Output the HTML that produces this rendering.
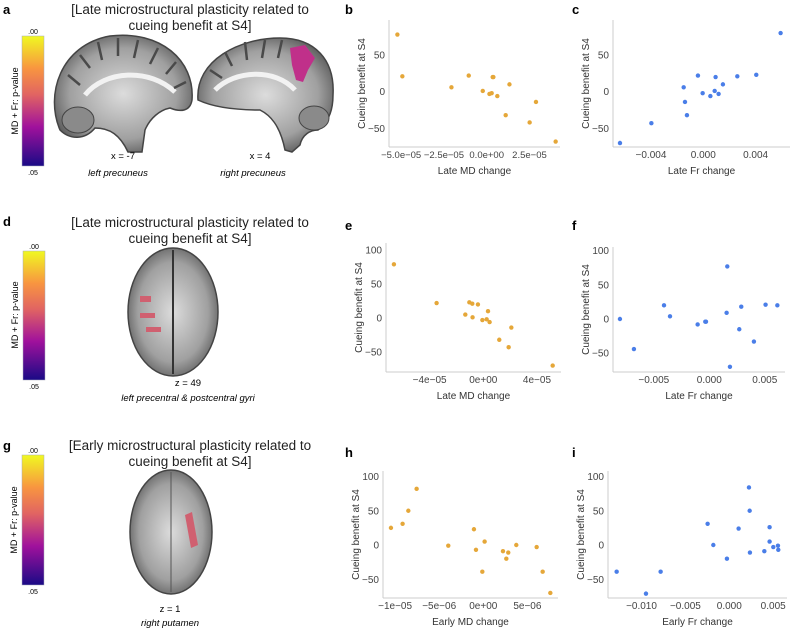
<!DOCTYPE html>
<html><head><meta charset="utf-8"><style>
body{margin:0;background:#fff;width:792px;height:633px;overflow:hidden;font-family:"Liberation Sans",sans-serif}
svg text{font-family:"Liberation Sans",sans-serif}
</style></head><body>
<svg id="fig" width="792" height="633" viewBox="0 0 792 633" xmlns="http://www.w3.org/2000/svg">
<defs>
<linearGradient id="plasma" x1="0" y1="0" x2="0" y2="1">
<stop offset="0" stop-color="#f0f921"/><stop offset="0.25" stop-color="#f89540"/><stop offset="0.45" stop-color="#e16462"/><stop offset="0.7" stop-color="#a0119c"/><stop offset="1" stop-color="#1a0a86"/>
</linearGradient>
<radialGradient id="brain" cx="0.5" cy="0.5" r="0.6">
<stop offset="0" stop-color="#dcdcdc"/><stop offset="0.65" stop-color="#a0a0a0"/><stop offset="1" stop-color="#4a4a4a"/>
</radialGradient>
</defs>
<g id="left">
<text x="3" y="14" font-weight="bold" font-size="13">a</text>
<text x="3" y="226" font-weight="bold" font-size="13">d</text>
<text x="3" y="450" font-weight="bold" font-size="13">g</text>
<g font-size="13.5" fill="#222" text-anchor="middle">
<text x="190" y="14">[Late microstructural plasticity related to</text>
<text x="190" y="30">cueing benefit at S4]</text>
<text x="190" y="227">[Late microstructural plasticity related to</text>
<text x="190" y="243">cueing benefit at S4]</text>
<text x="190" y="450">[Early microstructural plasticity related to</text>
<text x="190" y="466">cueing benefit at S4]</text>
</g>
<g>
<rect x="22" y="36" width="22" height="130" fill="url(#plasma)" stroke="#aab" stroke-width="0.5"/>
<text x="33" y="34" font-size="7" text-anchor="middle">.00</text><text x="33" y="175" font-size="7" text-anchor="middle">.05</text>
<text transform="translate(18,101) rotate(-90)" font-size="9" text-anchor="middle">MD + Fr: p-value</text></g>
<g>
<rect x="23" y="251" width="22" height="129" fill="url(#plasma)" stroke="#aab" stroke-width="0.5"/>
<text x="34" y="249" font-size="7" text-anchor="middle">.00</text><text x="34" y="389" font-size="7" text-anchor="middle">.05</text>
<text transform="translate(18,315) rotate(-90)" font-size="9" text-anchor="middle">MD + Fr: p-value</text></g>
<g>
<rect x="22" y="455" width="22" height="130" fill="url(#plasma)" stroke="#aab" stroke-width="0.5"/>
<text x="33" y="453" font-size="7" text-anchor="middle">.00</text><text x="33" y="594" font-size="7" text-anchor="middle">.05</text>
<text transform="translate(17,520) rotate(-90)" font-size="9" text-anchor="middle">MD + Fr: p-value</text></g>
<g>
<path d="M60,130 C45,95 60,45 110,36 C160,30 195,60 192,100 C190,112 180,112 170,108 C160,110 150,118 145,130 L142,152 L128,152 C120,135 110,128 95,128 C85,140 70,140 60,130Z" fill="url(#brain)" stroke="#444" stroke-width="1.5"/>
<path d="M85,95 C105,70 150,68 175,92" fill="none" stroke="#f2f2f2" stroke-width="5"/>
<path d="M68,75 L80,85 M80,55 L90,68 M98,42 L102,60 M118,38 L118,56 M138,40 L134,58 M158,48 L150,64 M176,62 L166,74 M186,82 L174,88" stroke="#4a4a4a" stroke-width="2.5"/>
<ellipse cx="78" cy="120" rx="16" ry="13" fill="#8a8a8a" stroke="#444"/>
</g>
<g>
<path d="M198,100 C195,60 240,38 280,38 C315,38 335,60 333,95 C333,115 325,125 318,130 C310,130 302,135 300,145 L292,152 L285,150 C280,125 270,115 260,110 C240,110 215,108 198,100Z" fill="url(#brain)" stroke="#444" stroke-width="1.5"/>
<path d="M215,90 C235,70 275,68 295,90" fill="none" stroke="#f2f2f2" stroke-width="5"/>
<path d="M210,70 L222,78 M225,52 L232,66 M245,42 L247,60 M265,40 L262,58 M282,40 L278,58" stroke="#4a4a4a" stroke-width="2.5"/>
<ellipse cx="314" cy="118" rx="15" ry="12" fill="#8a8a8a" stroke="#444"/>
<path d="M290,48 L305,45 L315,58 L308,70 L303,82 L296,80 L292,65 Z" fill="#c0308a"/>
</g>
<g font-size="9.5" text-anchor="middle">
<text x="123" y="159">x = -7</text>
<text x="118" y="176" font-style="italic">left precuneus</text>
<text x="260" y="159">x = 4</text>
<text x="253" y="176" font-style="italic">right precuneus</text>
<text x="188" y="386">z = 49</text>
<text x="188" y="401" font-style="italic">left precentral &amp; postcentral gyri</text>
<text x="170" y="612">z = 1</text>
<text x="170" y="626" font-style="italic">right putamen</text>
</g>
<g>
<ellipse cx="173" cy="312" rx="45" ry="64" fill="url(#brain)" stroke="#444" stroke-width="1.5"/>
<line x1="173" y1="250" x2="173" y2="374" stroke="#333" stroke-width="2"/>
<rect x="140" y="296" width="11" height="6" fill="#d06070"/><rect x="140" y="313" width="15" height="5" fill="#d06070"/><rect x="146" y="327" width="15" height="5" fill="#d06070"/>
</g>
<g>
<ellipse cx="171" cy="532" rx="41" ry="62" fill="url(#brain)" stroke="#444" stroke-width="1.5"/>
<line x1="171" y1="472" x2="171" y2="592" stroke="#555" stroke-width="1"/>
<path d="M185,515 L192,512 L198,545 L191,548Z" fill="#d06070"/>
</g>
</g>
<g id="charts"></g>
</svg>
<script>
const bX=[-5.22,-4.93,-2.06,-1.05,-0.23,0.16,0.29,0.35,0.39,0.62,1.11,1.33,2.51,2.88,4.03];
const bY=[78,21,6,22,1,-3,-2,20,20,-6,-32,10,-42,-14,-68];
const cX=[-6.37,-3.97,-1.50,-1.40,-1.25,-0.41,-0.05,0.54,0.87,0.94,1.17,1.50,2.60,4.05,5.91];
const cY=[-70,-43,6,-14,-32,22,-2,-6,1,20,-3,10,21,23,80];
const eX=[-6.66,-3.48,-1.34,-1.04,-0.82,-0.80,-0.40,-0.07,0.25,0.35,0.47,1.19,1.89,2.09,5.17];
const eY=[79,22,5,23,21,1,20,-3,-2,10,-6,-32,-43,-14,-70];
const fX=[-8.05,-6.79,-4.08,-3.54,-1.05,-0.36,-0.30,1.56,1.62,1.86,2.70,2.88,4.02,5.07,6.13];
const fY=[0,-44,20,4,-8,-4,-4,9,77,-70,-15,18,-33,21,20];
const hX=[-10.47,-9.15,-8.50,-7.56,-3.97,-1.06,-0.83,-0.11,0.15,2.23,2.61,2.83,3.74,6.05,6.73,7.60];
const hY=[25,31,50,82,-1,23,-7,-39,5,-9,-20,-11,0,-3,-39,-70];
const iX=[-12.83,-9.49,-7.82,-2.47,-1.82,-0.27,1.06,2.24,2.32,2.35,3.99,4.59,4.59,5.01,5.54,5.58];
const iY=[-39,-71,-39,31,0,-20,24,84,50,-11,-9,26,5,-3,-1,-7];
const bTicks=[-5,-2.5,0,2.5], bTickLabels=["\u22125.0e\u221205","\u22122.5e\u221205","0.0e+00","2.5e\u221205"];
const cTicks=[-4,0,4], cTickLabels=["\u22120.004","0.000","0.004"];
const eTicks=[-4,0,4], eTickLabels=["\u22124e\u221205","0e+00","4e\u221205"];
const fTicks=[-5,0,5], fTickLabels=["\u22120.005","0.000","0.005"];
const hTicks=[-10,-5,0,5], hTickLabels=["\u22121e\u221205","\u22125e\u221206","0e+00","5e\u221206"];
const iTicks=[-10,-5,0,5], iTickLabels=["\u22120.010","\u22120.005","0.000","0.005"];
const yTicks3=[-50,0,50], yTicks4=[-50,0,50,100];

const NS="http://www.w3.org/2000/svg";
const root=document.getElementById('charts');
function mk(tag,attrs,parent){const e=document.createElementNS(NS,tag);for(const k in attrs)e.setAttribute(k,attrs[k]);parent.appendChild(e);return e;}
function plot(cfg){
 const g=mk('g',{},root);
 
 
 const sx=v=>cfg.x0+v*cfg.kx, sy=v=>cfg.y0+v*cfg.ky;
 const lab=mk('text',{x:cfg.lx,y:cfg.ly,'font-size':13,'font-weight':'bold'},g);lab.textContent=cfg.id;
 
 
 const ya=mk('line',{x1:cfg.ax,y1:cfg.top,x2:cfg.ax,y2:cfg.bot,stroke:'#ccc','stroke-width':1},g);
 
 
 const xa=mk('line',{x1:cfg.ax,y1:cfg.bot,x2:cfg.right,y2:cfg.bot,stroke:'#ccc','stroke-width':1},g);
 
 
 cfg.yt.forEach(v=>{const t=mk('text',{x:cfg.ax-4,y:sy(v)+3.5,'font-size':10,'text-anchor':'end',fill:'#444'},g);t.textContent=String(v).replace('-','\u2212');
  
  });
 cfg.xt.forEach((v,i)=>{const t=mk('text',{x:sx(v),y:cfg.bot+11,'font-size':cfg.xfs||10,'text-anchor':'middle',fill:'#444'},g);t.textContent=cfg.xl[i];
  
  });
 const xt=mk('text',{x:(cfg.ax+cfg.right)/2,y:cfg.bot+27,'font-size':10,'text-anchor':'middle',fill:'#333'},g);xt.textContent=cfg.xtitle;
 
 
 const yt=mk('text',{transform:`translate(${cfg.ax-24},${(cfg.top+cfg.bot)/2}) rotate(-90)`,'font-size':10,'text-anchor':'middle',fill:'#333'},g);yt.textContent='Cueing benefit at S4';
 
 
 cfg.X.forEach((v,i)=>{const c=mk('circle',{cx:sx(v),cy:sy(cfg.Y[i]),r:2.2,fill:cfg.col},g);
  
  });
}
const OR='#e5a739', BL='#4a7ee8';
plot({id:'b',X:bX,Y:bY,col:OR,x0:486.7,kx:17.11,y0:91.7,ky:-0.733,ax:389,top:20,bot:147,right:560,lx:345,ly:14,yt:yTicks3,xt:bTicks,xl:bTickLabels,xfs:9.5,xtitle:'Late MD change'});
plot({id:'c',X:cX,Y:cY,col:BL,x0:703.3,kx:13.08,y0:91.7,ky:-0.733,ax:613,top:20,bot:147,right:790,lx:572,ly:14,yt:yTicks3,xt:cTicks,xl:cTickLabels,xtitle:'Late Fr change'});
plot({id:'e',X:eX,Y:eY,col:OR,x0:483.3,kx:13.42,y0:318,ky:-0.68,ax:386,top:243,bot:372,right:561,lx:345,ly:230,yt:yTicks4,xt:eTicks,xl:eTickLabels,xtitle:'Late MD change'});
plot({id:'f',X:fX,Y:fY,col:BL,x0:709.3,kx:11.10,y0:319,ky:-0.683,ax:613,top:247,bot:372,right:785,lx:572,ly:230,yt:yTicks4,xt:fTicks,xl:fTickLabels,xtitle:'Late Fr change'});
plot({id:'h',X:hX,Y:hY,col:OR,x0:483.3,kx:8.82,y0:545,ky:-0.685,ax:383,top:471,bot:598,right:558,lx:345,ly:457,yt:yTicks4,xt:hTicks,xl:hTickLabels,xtitle:'Early MD change'});
plot({id:'i',X:iX,Y:iY,col:BL,x0:729.3,kx:8.78,y0:545,ky:-0.685,ax:608,top:471,bot:598,right:787,lx:572,ly:457,yt:yTicks4,xt:iTicks,xl:iTickLabels,xtitle:'Early Fr change'});
</script>
</body></html>
